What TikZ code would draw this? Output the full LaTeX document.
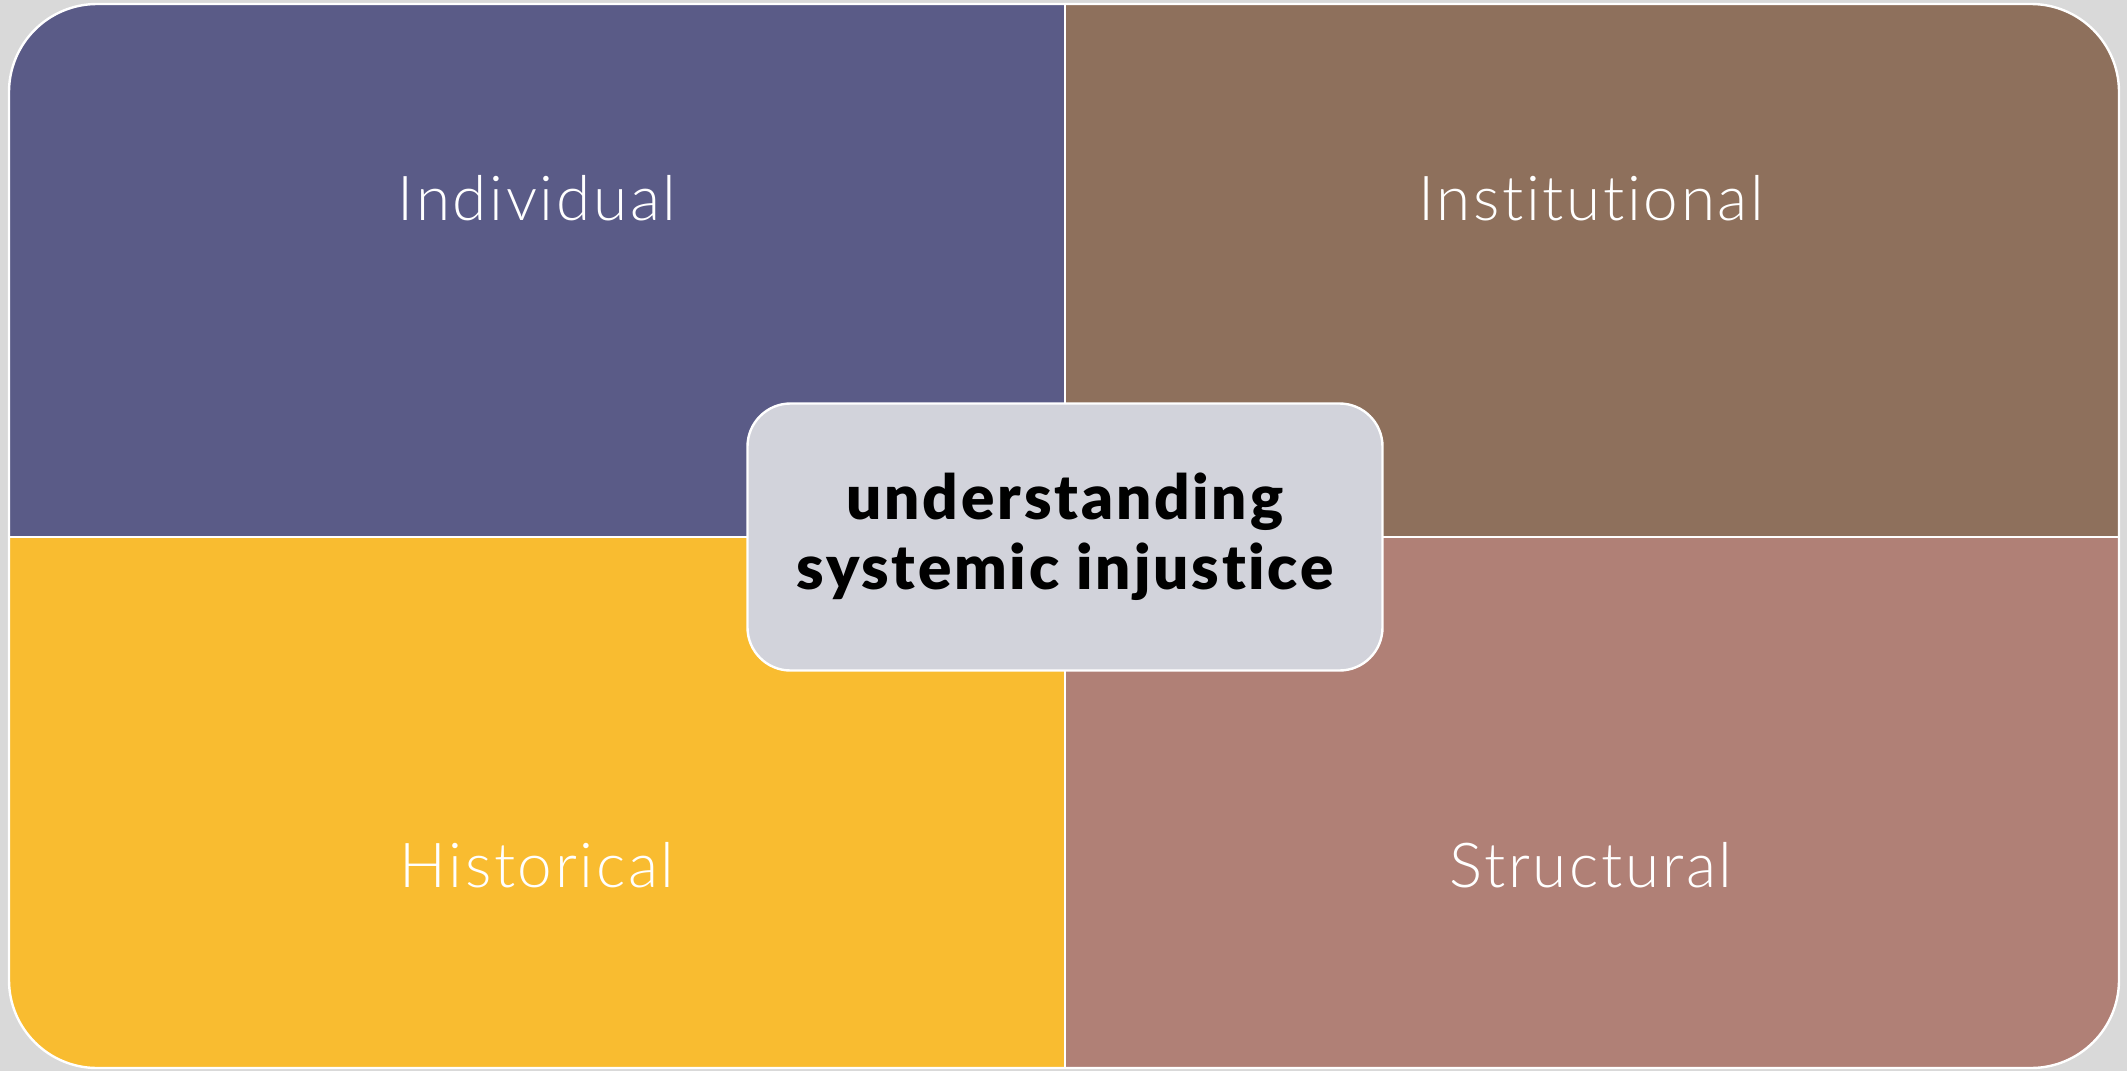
\documentclass[tikz,border=0pt]{standalone}
\usepackage{fontspec}
\setmainfont{Lato}
\newfontfamily\thinfont{Lato Light}[Ligatures={NoCommon,NoRare,NoDiscretionary}, LetterSpace=4.3]
\newfontfamily\heavyfont{Lato Black}[Ligatures={NoCommon,NoRare,NoDiscretionary}, LetterSpace=4.5]
\definecolor{pagebg}{HTML}{D9D9D9}
\definecolor{qpurple}{HTML}{5A5B87}
\definecolor{qbrown}{HTML}{8E705C}
\definecolor{qyellow}{HTML}{F9BC30}
\definecolor{qrose}{HTML}{B08076}
\definecolor{corebox}{HTML}{D2D3DB}
\tikzset{
  quadlabel/.style={text=white, font=\thinfont\fontsize{31}{36}\selectfont, inner sep=0pt},
  corenode/.style={fill=corebox, draw=white, line width=1.2pt, rounded corners=21.5pt,
    minimum width=317.5pt, minimum height=133.5pt, align=center,
    font=\heavyfont\fontsize{31}{35}\selectfont, text=black},
  divider/.style={white, line width=1.2pt}
}
\begin{document}
\begin{tikzpicture}[x=0.5pt,y=-0.5pt]
  % page background
  \fill[pagebg] (0,0) rectangle (2127,1071);
  % four coloured quadrants inside one rounded frame
  \begin{scope}
    \clip[rounded corners=44pt] (9,4) rectangle (2119,1068);
    \fill[qpurple] (9,4) rectangle (1065,537);
    \fill[qbrown] (1065,4) rectangle (2119,537);
    \fill[qyellow] (9,537) rectangle (1065,1068);
    \fill[qrose] (1065,537) rectangle (2119,1068);
  \end{scope}
  \draw[divider, rounded corners=44pt] (9,4) rectangle (2119,1068);
  \coordinate (ntop) at (1065,4);
  \coordinate (nbot) at (1065,1068);
  \coordinate (nleft) at (9,537);
  \coordinate (nright) at (2119,537);
  \draw[divider] (ntop) -- (nbot);
  \draw[divider] (nleft) -- (nright);
  % quadrant labels
  \node[quadlabel] (individual) at (537,198) {Individual};
  \node[quadlabel] (institutional) at (1591,198) {Institutional};
  \node[quadlabel] (historical) at (537,865) {Historical};
  \node[quadlabel] (structural) at (1591,865) {Structural};
  % central box
  \node[corenode] (core) at (1065,537) {understanding\\systemic injustice};
\end{tikzpicture}
\end{document}
